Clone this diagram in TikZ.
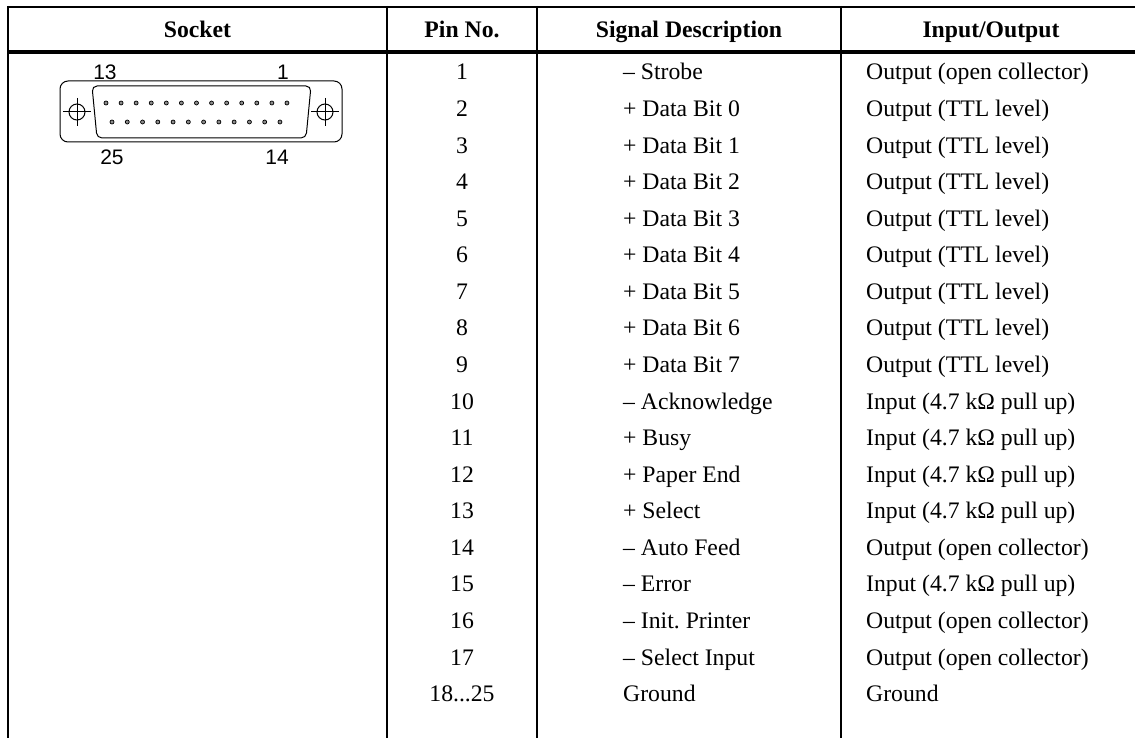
\documentclass[tikz,border=0pt]{standalone}
\usepackage{fontspec}
\setmainfont{Liberation Serif}
\newfontfamily\lsans{Liberation Sans}
\newcommand\groundpins{18...25}
\frenchspacing
\begin{document}
\begin{tikzpicture}[x=1pt,y=-1pt,
  grid/.style={line width=2pt},
  thickrule/.style={line width=4pt},
  hdr/.style={inner sep=0pt,anchor=base,font=\fontsize{23.7}{28}\selectfont\bfseries},
  cell/.style={inner sep=0pt,font=\fontsize{23.7}{28}\selectfont},
  pinlabel/.style={inner sep=0pt,font=\lsans\fontsize{21}{21}\selectfont},
  conn/.style={line width=1pt},
  pindot/.style={draw=black,fill=black!45,line width=0.7pt}]
\useasboundingbox (0,0) rectangle (1135,738);
% table rules
\draw[grid] (7,7) -- (1135,7);
\draw[thickrule] (7,52) -- (1135,52);
\draw[grid] (8,6) -- (8,738);
\draw[grid] (387,6) -- (387,738);
\draw[grid] (537,6) -- (537,738);
\draw[grid] (841,6) -- (841,738);
% header
\node[hdr] (hsock) at (197.5,38) {Socket};
\node[hdr] (hpin) at (462,38) {Pin No.};
\node[hdr] (hsig) at (689,38) {Signal Description};
\node[hdr] (hio) at (991,38) {Input/Output};
% rows
\foreach \p/\s/\io [count=\i] in {
  1/{-- Strobe}/{Output (open collector)},
  2/{+ Data Bit 0}/{Output (TTL level)},
  3/{+ Data Bit 1}/{Output (TTL level)},
  4/{+ Data Bit 2}/{Output (TTL level)},
  5/{+ Data Bit 3}/{Output (TTL level)},
  6/{+ Data Bit 4}/{Output (TTL level)},
  7/{+ Data Bit 5}/{Output (TTL level)},
  8/{+ Data Bit 6}/{Output (TTL level)},
  9/{+ Data Bit 7}/{Output (TTL level)},
  10/{-- Acknowledge}/{Input (4.7 kΩ pull up)},
  11/{+ Busy}/{Input (4.7 kΩ pull up)},
  12/{+ Paper End}/{Input (4.7 kΩ pull up)},
  13/{+ Select}/{Input (4.7 kΩ pull up)},
  14/{-- Auto Feed}/{Output (open collector)},
  15/{-- Error}/{Input (4.7 kΩ pull up)},
  16/{-- Init.\ Printer}/{Output (open collector)},
  17/{-- Select Input}/{Output (open collector)},
  \groundpins/{Ground}/{Ground}}
{
  \pgfmathsetmacro{\yy}{80+36.57*(\i-1)}
  \node[cell,anchor=base] (pin\i) at (462,\yy) {\p};
  \node[cell,anchor=base west] (sig\i) at (623,\yy) {\s};
  \node[cell,anchor=base west] (io\i) at (866,\yy) {\io};
}
% socket drawing
\draw[conn,rounded corners=8pt] (60,81) rectangle (342,142);
\draw[conn,rounded corners=5pt] (92,86) -- (311,86) -- (306,138) -- (97,138) -- cycle;
\draw[conn] (77,112) circle (8);
\draw[conn] (63,112) -- (91,112) (77,98) -- (77,126);
\draw[conn] (325,112) circle (8);
\draw[conn] (311,112) -- (339,112) (325,98) -- (325,126);
\foreach \k in {0,...,12} \fill[pindot] (106+15.08*\k,103) circle (2);
\foreach \k in {0,...,11} \fill[pindot] (112+15.27*\k,122) circle (2);
\node[pinlabel] (l13) at (105,72) {13};
\node[pinlabel] (l1) at (283,72) {1};
\node[pinlabel] (l25) at (112,157) {25};
\node[pinlabel] (l14) at (277,157) {14};
\end{tikzpicture}
\end{document}
